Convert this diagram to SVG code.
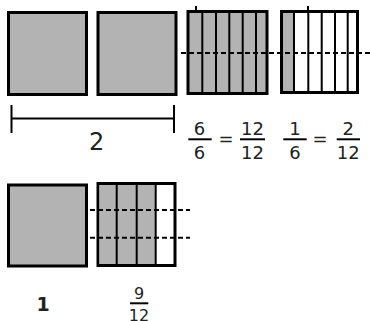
<svg xmlns="http://www.w3.org/2000/svg" width="370" height="321" viewBox="0 0 370 321">
<style>
.sq{fill:#b3b3b3;stroke:#000;stroke-width:3}
.wh{fill:#fff;stroke:#000;stroke-width:3}
.gr{fill:#b3b3b3;stroke:none}
.col{stroke:#000;stroke-width:2}
.dash{stroke:#000;stroke-width:2;stroke-dasharray:5 3;fill:none}
.ln{stroke:#000;stroke-width:2;fill:none}
.t{font-family:"DejaVu Sans",Verdana,sans-serif;fill:#222;text-anchor:middle}
</style>
<rect width="370" height="321" fill="#fff"/>
<g id="whole1"><rect class="sq" x="8.5" y="12.5" width="78" height="82"/></g>
<g id="whole2"><rect class="sq" x="98" y="12.5" width="78" height="82"/></g>
<g id="sixths-full">
<rect class="sq" x="188" y="11.5" width="79" height="82"/>
<g class="col"><line x1="202.3" y1="12" x2="202.3" y2="93"/><line x1="216" y1="12" x2="216" y2="93"/><line x1="229.3" y1="12" x2="229.3" y2="93"/><line x1="242.7" y1="12" x2="242.7" y2="93"/><line x1="256" y1="12" x2="256" y2="93"/></g>
<line class="ln" x1="196" y1="6" x2="196" y2="10"/>
</g>
<g id="sixths-one">
<rect class="wh" x="281.5" y="11.5" width="76" height="81"/>
<rect class="gr" x="283" y="13" width="11" height="78"/>
<g class="col"><line x1="294" y1="12" x2="294" y2="92"/><line x1="308.3" y1="12" x2="308.3" y2="92"/><line x1="321.7" y1="12" x2="321.7" y2="92"/><line x1="335" y1="12" x2="335" y2="92"/><line x1="347.7" y1="12" x2="347.7" y2="92"/></g>
<line class="ln" x1="308" y1="6" x2="308" y2="10"/>
</g>
<g id="bottom-whole"><rect class="sq" x="8.5" y="185" width="78" height="81"/></g>
<g id="ninetwelfths">
<rect class="wh" x="98" y="183.5" width="77" height="82"/>
<rect class="gr" x="99.5" y="185" width="56" height="79"/>
<g class="col"><line x1="116.7" y1="184" x2="116.7" y2="265"/><line x1="136.7" y1="184" x2="136.7" y2="265"/><line x1="155.7" y1="184" x2="155.7" y2="265"/></g>
</g>
<g id="connectors">
<line class="dash" x1="181" y1="53" x2="370" y2="53"/>
<line class="dash" x1="90" y1="210" x2="190" y2="210"/>
<line class="dash" x1="90" y1="237.7" x2="190" y2="237.7"/>
<g id="bracket">
<line class="ln" x1="11.5" y1="105" x2="11.5" y2="133"/>
<line class="ln" x1="11.5" y1="118.5" x2="174" y2="118.5"/>
<line class="ln" x1="174" y1="105" x2="174" y2="133"/>
</g>
</g>
<g id="labels">
<text class="t" x="96.7" y="150" font-size="24">2</text>
<g id="frac-6-6"><text class="t" x="199.5" y="135" font-size="18">6</text><line class="ln" x1="188.3" y1="139.3" x2="211.7" y2="139.3"/><text class="t" x="199.5" y="159" font-size="18">6</text></g>
<text class="t" x="226" y="145" font-size="18">=</text>
<g id="frac-12-12"><text class="t" x="252.5" y="135" font-size="18">12</text><line class="ln" x1="240" y1="139.3" x2="265" y2="139.3"/><text class="t" x="252.5" y="159" font-size="18">12</text></g>
<g id="frac-1-6"><text class="t" x="295" y="135" font-size="18">1</text><line class="ln" x1="283.3" y1="139.3" x2="306.7" y2="139.3"/><text class="t" x="295" y="159" font-size="18">6</text></g>
<text class="t" x="320" y="145" font-size="18">=</text>
<g id="frac-2-12"><text class="t" x="348.3" y="135" font-size="18">2</text><line class="ln" x1="336.7" y1="139.3" x2="360" y2="139.3"/><text class="t" x="348.3" y="159" font-size="18">12</text></g>
<text class="t" x="43" y="311" font-size="19" font-weight="bold">1</text>
<g id="frac-9-12"><text class="t" x="139" y="299.3" font-size="16">9</text><line class="ln" x1="130" y1="303.3" x2="148.3" y2="303.3"/><text class="t" x="139" y="320.5" font-size="16">12</text></g>
</g>
</svg>
